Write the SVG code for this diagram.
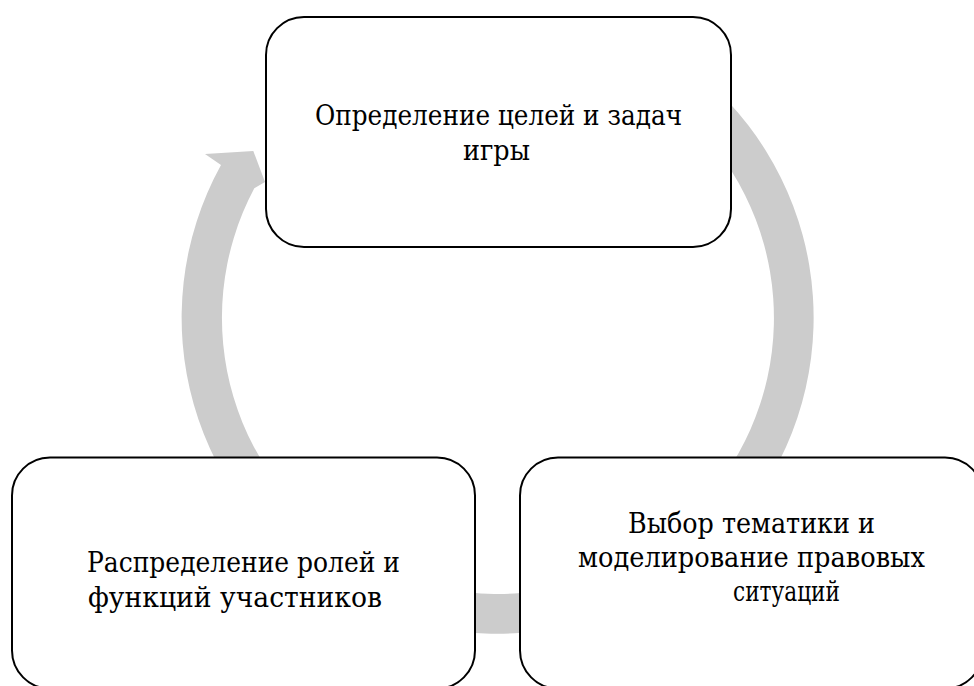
<svg xmlns="http://www.w3.org/2000/svg" width="974" height="686" viewBox="0 0 974 686">
<style>
.box{fill:#ffffff;stroke:#000000;stroke-width:2}
.lbl{font-family:"DejaVu Serif","Liberation Serif",serif;font-size:27px;fill:#000000;text-anchor:middle}
.arrow{fill:#cccccc;stroke:none}
</style>
<rect width="974" height="686" fill="#ffffff"/>
<g id="connectors">
<path class="arrow" d="M656,44.3 A316,316 0 1 1 221,165 L205,154 L253.3,151 L265,182 L254.3,188.3 A276,276 0 1 0 636,79 Z"/>
</g>
<g id="node-goals">
<rect class="box" x="266" y="17" width="465" height="230" rx="38" ry="38"/>
<text class="lbl"><tspan x="498.5" y="125" textLength="367" lengthAdjust="spacingAndGlyphs">Определение целей и задач</tspan><tspan x="496.5" y="159.5" textLength="67" lengthAdjust="spacingAndGlyphs">игры</tspan></text>
</g>
<g id="node-roles">
<rect class="box" x="12" y="457.5" width="463" height="231" rx="38" ry="38"/>
<text class="lbl"><tspan x="243.5" y="572" textLength="313" lengthAdjust="spacingAndGlyphs">Распределение ролей и</tspan><tspan x="235" y="606.5" textLength="294" lengthAdjust="spacingAndGlyphs">функций участников</tspan></text>
</g>
<g id="node-topics">
<rect class="box" x="520" y="457.5" width="463" height="231" rx="38" ry="38"/>
<text class="lbl"><tspan x="751.5" y="533" textLength="247" lengthAdjust="spacingAndGlyphs">Выбор тематики и</tspan><tspan x="751.5" y="567" textLength="347" lengthAdjust="spacingAndGlyphs">моделирование правовых</tspan><tspan x="786.5" y="601" textLength="107" lengthAdjust="spacingAndGlyphs">ситуаций</tspan></text>
</g>
</svg>
